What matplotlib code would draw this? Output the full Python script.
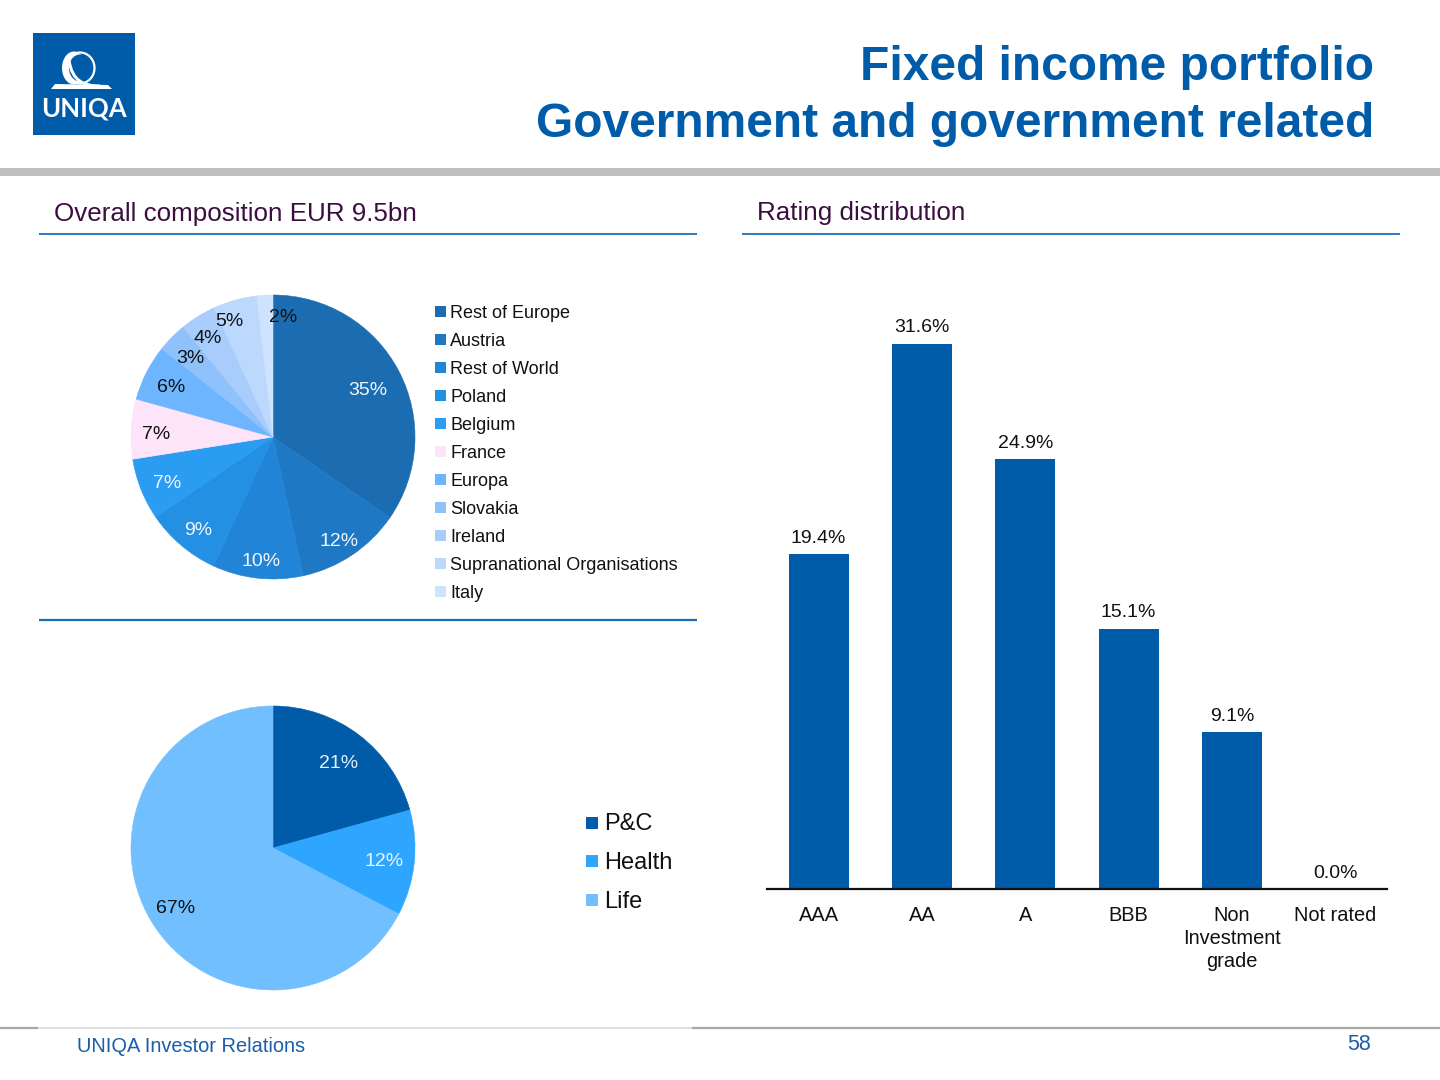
import matplotlib
matplotlib.use("Agg")
import numpy as np
import matplotlib.pyplot as plt
from matplotlib.patches import Rectangle, Ellipse, Polygon, PathPatch
from matplotlib.path import Path

plt.rcParams['font.family'] = ['Liberation Sans', 'DejaVu Sans']

# ---- data ----
comp_names = ["Rest of Europe", "Austria", "Rest of World", "Poland", "Belgium", "France",
              "Europa", "Slovakia", "Ireland", "Supranational Organisations", "Italy"]
comp_values = [34.6, 12.0, 10.3, 8.6, 7.0, 6.8, 6.4, 3.4, 4.1, 5.0, 1.8]
comp_colors = ["#1b6cb0", "#1f78c4", "#2284d6", "#2490e4", "#2a9cf2", "#fde4f8",
               "#6db6ff", "#8fc1fb", "#a8cdfc", "#bcd8fd", "#cfe2fe"]
comp_text_colors = ["#f2f6fb"] * 5 + ["#111111"] * 6

line_names = ["P&C", "Health", "Life"]
line_values = [20.7, 12.0, 67.3]
line_colors = ["#005ca9", "#2ea6ff", "#72bfff"]
line_text_colors = ["#e8f0f8", "#e8f4ff", "#111111"]

rating_names = ["AAA", "AA", "A", "BBB", "Non\nInvestment\ngrade", "Not rated"]
rating_values = [19.4, 31.6, 24.9, 15.1, 9.1, 0.0]

# ---- layout ----
W, H = 1440, 1080
BLUE = "#005ca9"
RULE = "#1a6eb5"
HEAD = "#3a0f3f"

fig = plt.figure(figsize=(14.4, 10.8), dpi=100, facecolor="white")

def px_axes(x0, y0, x1, y1, **kw):
    return fig.add_axes([x0 / W, 1 - y1 / H, (x1 - x0) / W, (y1 - y0) / H], **kw)

bg = px_axes(0, 0, W, H)
bg.set_xlim(0, W)
bg.set_ylim(H, 0)
bg.axis("off")

def rule(x0, x1, y, color=RULE, lw=1.3):
    bg.plot([x0, x1], [y, y], color=color, lw=lw, solid_capstyle="butt")

# logo
bg.add_patch(Rectangle((33, 33), 102, 102, fc=BLUE, ec="none"))
bg.add_patch(Ellipse((74, 68), 24, 33, fc="white", ec="none"))
bg.add_patch(Ellipse((80, 68), 22, 27, fc=BLUE, ec="none"))
bg.add_patch(Ellipse((80, 68), 29, 31, fc="none", ec="white", lw=1.6))
bg.add_patch(PathPatch(Path([(69, 60), (72, 82), (85, 86), (100, 86)],
                            [Path.MOVETO, Path.CURVE4, Path.CURVE4, Path.CURVE4]),
                       fc="none", ec="white", lw=2.2))
bg.add_patch(Polygon([[51, 89], [55, 84], [108, 85], [112, 89]], fc="white", ec="none"))
bg.text(84, 108, "UNIQA", color="white", fontsize=18.5, fontweight="bold",
        ha="center", va="center", family="Lato")

# titles
bg.text(1374, 67.5, "Fixed income portfolio", color=BLUE, fontsize=34.5, fontweight="bold",
        ha="right", va="center")
bg.text(1374, 124.5, "Government and government related", color=BLUE, fontsize=34.5, fontweight="bold",
        ha="right", va="center")
bg.add_patch(Rectangle((0, 168), W, 8, fc="#c0c0c0", ec="none"))

# section headings
bg.text(54, 214, "Overall composition EUR 9.5bn", color=HEAD, fontsize=18.7, ha="left", va="center")
bg.text(757, 213, "Rating distribution", color=HEAD, fontsize=18.7, ha="left", va="center")
rule(39, 697, 233.5)
rule(742, 1400, 233.5)
rule(39, 697, 619.5, lw=1.6)

# footer
rule(0, W, 1027.5, color="#d8d8d8", lw=1.2)
rule(0, 38, 1027.5, color="#a8a8a8", lw=1.6)
rule(692, W, 1027.5, color="#a8a8a8", lw=1.6)
bg.text(77, 1047, "UNIQA Investor Relations", color="#1a5ea8", fontsize=14.4, ha="left", va="center")
bg.text(1371, 1045, "58", color="#1a5ea8", fontsize=15.5, ha="right", va="center")


def draw_pie(box, values, colors, radii, text_colors, fontsize, nudges=None):
    ax = px_axes(*box)
    wedges, _ = ax.pie(values, colors=colors, startangle=90, counterclock=False, radius=1.0)
    ax.set_xlim(-1, 1)
    ax.set_ylim(-1, 1)
    ax.set_aspect("equal")
    drop = 2 / 142  # text sits slightly lower than its geometric centre
    for i, (w, v) in enumerate(zip(wedges, values)):
        w.set_edgecolor(colors[i])
        w.set_linewidth(0.4)
        ang = np.deg2rad((w.theta1 + w.theta2) / 2 + (nudges[i] if nudges else 0))
        ax.text(radii[i] * np.cos(ang), radii[i] * np.sin(ang) - drop, f"{v:.0f}%", color=text_colors[i],
                fontsize=fontsize, ha="center", va="center")
    return ax


draw_pie((131, 295, 415, 579), comp_values, comp_colors,
         [0.75, 0.856, 0.87, 0.836, 0.811, 0.825, 0.803, 0.812, 0.84, 0.88, 0.855],
         comp_text_colors, 14,
         nudges=[-0.9, -1, 0.7, 1.1, 1.4, 0.8, 0.4, 0.7, 1.1, 5, -7.9])
draw_pie((131, 706, 415, 990), line_values, line_colors,
         [0.768, 0.788, 0.80], line_text_colors, 14)

# legends
for i, (n, c) in enumerate(zip(comp_names, comp_colors)):
    y = 311 + 28 * i
    bg.add_patch(Rectangle((435, y - 5), 10.5, 10.5, fc=c, ec="none"))
    bg.text(450, y + 2, n, color="#111111", fontsize=13, ha="left", va="center")
for i, (n, c) in enumerate(zip(line_names, line_colors)):
    y = 822.5 + 38.7 * i
    bg.add_patch(Rectangle((586, y - 6), 12, 12, fc=c, ec="none"))
    bg.text(604.5, y + 2, n, color="#111111", fontsize=17, ha="left", va="center")

# bars
ax = px_axes(767, 300, 1387, 889)
x = np.arange(len(rating_values))
bars = ax.bar(x, rating_values, width=0.58, color=BLUE)
ax.set_xlim(-0.5, 5.5)
ax.set_ylim(0, 589 / 17.25)
ax.set_yticks([])
for s in ["top", "left", "right"]:
    ax.spines[s].set_visible(False)
ax.spines["bottom"].set_linewidth(1.6)
ax.spines["bottom"].set_color("#111111")
ax.set_xticks(x)
ax.set_xticklabels(rating_names, fontsize=14.4, color="#111111", linespacing=1.25)
ax.tick_params(axis="x", length=0, pad=12.5)
ax.patch.set_alpha(0)
for b, v in zip(bars, rating_values):
    ax.annotate(f"{v:.1f}%", (b.get_x() + b.get_width() / 2, v), xytext=(0, 11.5),
                textcoords="offset points", ha="center", va="center", fontsize=14, color="#111111")

fig.savefig("out.png", dpi=100, facecolor="white")
